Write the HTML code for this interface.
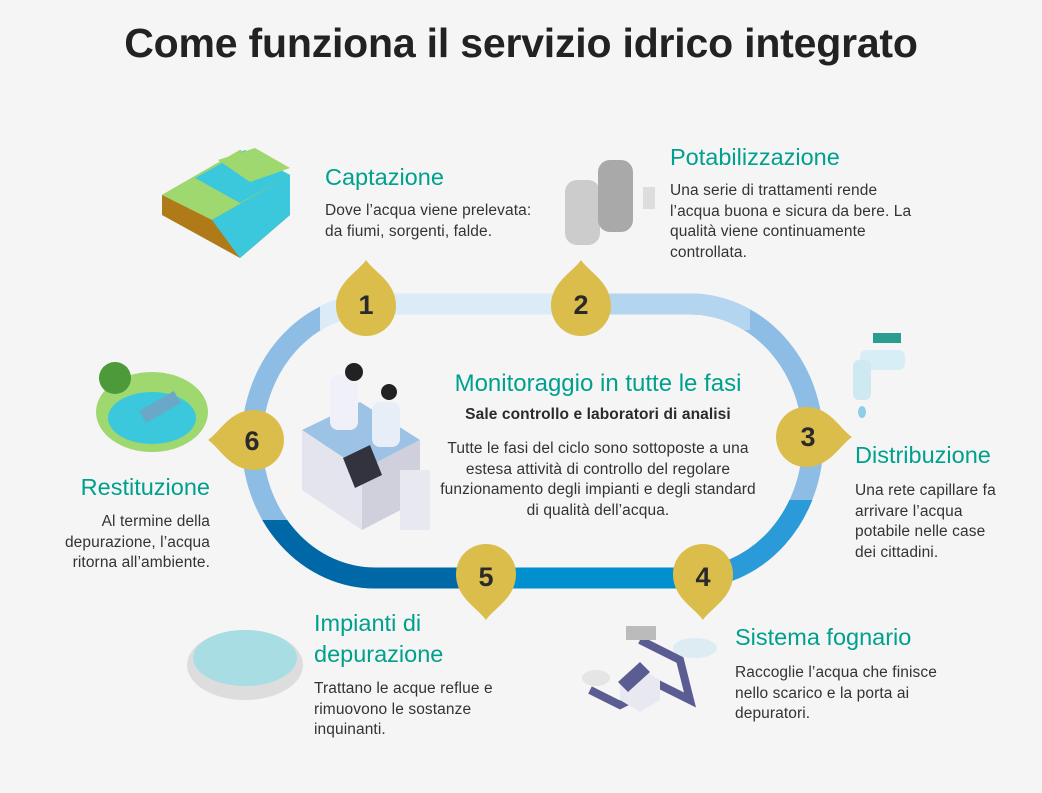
<!DOCTYPE html>
<html><head><meta charset="utf-8"><style>
body{margin:0;width:1042px;height:793px;background:#f5f5f5;position:relative;overflow:hidden;font-family:"Liberation Sans",sans-serif;color:#333}
h1{position:absolute;left:0;width:1042px;top:20px;margin:0;text-align:center;font-size:41px;font-weight:bold;color:#222;letter-spacing:-0.2px}
.h{position:absolute;color:#00a08e;font-size:23.5px;white-space:nowrap}
.b{position:absolute;font-size:15.5px;line-height:20.5px;white-space:nowrap;color:#333;letter-spacing:0.1px}
.r{text-align:right}
.c{text-align:center}
</style></head><body>
<h1>Come funziona il servizio idrico integrato</h1>
<svg width="1042" height="793" style="position:absolute;left:0;top:0">
<defs>
<clipPath id="cTop1"><rect x="320" y="270" width="250" height="60"/></clipPath>
<clipPath id="cTop2"><rect x="570" y="270" width="180" height="60"/></clipPath>
<clipPath id="cBR"><rect x="700" y="500" width="150" height="100"/></clipPath>
<clipPath id="cB45"><rect x="490" y="540" width="210" height="60"/></clipPath>
<clipPath id="cB56"><rect x="230" y="520" width="260" height="80"/></clipPath>
</defs>
<path d="M375 304 H690 A123 137 0 0 1 690 578 H375 A123 137 0 0 1 375 304 Z" fill="none" stroke="#8dbde4" stroke-width="21"/>
<g fill="none" stroke-width="21">
<path d="M375 304 H690 A123 137 0 0 1 690 578 H375 A123 137 0 0 1 375 304 Z" stroke="#dcebf8" clip-path="url(#cTop1)"/>
<path d="M375 304 H690 A123 137 0 0 1 690 578 H375 A123 137 0 0 1 375 304 Z" stroke="#b4d5f0" clip-path="url(#cTop2)"/>
<path d="M375 304 H690 A123 137 0 0 1 690 578 H375 A123 137 0 0 1 375 304 Z" stroke="#2a9ad8" clip-path="url(#cBR)"/>
<path d="M375 304 H690 A123 137 0 0 1 690 578 H375 A123 137 0 0 1 375 304 Z" stroke="#0090d0" clip-path="url(#cB45)"/>
<path d="M375 304 H690 A123 137 0 0 1 690 578 H375 A123 137 0 0 1 375 304 Z" stroke="#0068a6" clip-path="url(#cB56)"/>
</g>
<g fill="#dbbd4b">
<path d="M366 260 C374 272 396 282 396 306 A30 30 0 0 1 336 306 C336 282 358 272 366 260Z"/>
<path d="M581 260 C589 272 611 282 611 306 A30 30 0 0 1 551 306 C551 282 573 272 581 260Z"/>
<path d="M852 437 C840 445 830 467 806 467 A30 30 0 0 1 806 407 C830 407 840 429 852 437Z"/>
<path d="M703 620 C695 608 673 598 673 574 A30 30 0 0 1 733 574 C733 598 711 608 703 620Z"/>
<path d="M486 620 C478 608 456 598 456 574 A30 30 0 0 1 516 574 C516 598 494 608 486 620Z"/>
<path d="M208 440 C220 432 230 410 254 410 A30 30 0 0 1 254 470 C230 470 220 448 208 440Z"/>
</g>
<g font-family="Liberation Sans,sans-serif" font-weight="bold" font-size="27" fill="#2a2a2a" text-anchor="middle">
<text x="366" y="314">1</text><text x="581" y="314">2</text><text x="808" y="446">3</text>
<text x="703" y="586">4</text><text x="486" y="586">5</text><text x="252" y="450">6</text>
</g>
<polygon points="162,195 240,150 290,175 290,215 240,258 162,215" fill="#b07a18"/>
<polygon points="162,195 240,150 290,175 212,220" fill="#9ed86e"/>
<polygon points="195,178 245,150 290,175 240,203" fill="#3cc8dc"/>
<polygon points="212,220 290,175 290,215 240,258" fill="#3cc8dc"/>
<polygon points="218,160 255,148 290,168 250,182" fill="#9ed86e"/>
<rect x="565" y="180" width="35" height="65" rx="12" fill="#ccc"/>
<rect x="598" y="160" width="35" height="72" rx="12" fill="#a9a9a9"/>
<rect x="643" y="187" width="12" height="22" fill="#ddd"/>
<rect x="860" y="350" width="45" height="20" rx="6" fill="#d8eef6"/>
<rect x="853" y="360" width="18" height="40" rx="6" fill="#cfe9f3"/>
<rect x="873" y="333" width="28" height="10" fill="#2a9d8f"/>
<ellipse cx="862" cy="412" rx="4" ry="6" fill="#8ccfe6"/>
<ellipse cx="152" cy="412" rx="56" ry="40" fill="#9ed86e"/>
<ellipse cx="152" cy="418" rx="44" ry="26" fill="#3cc8dc"/>
<circle cx="115" cy="378" r="16" fill="#4c9a3a"/>
<rect x="140" y="400" width="40" height="14" fill="#6aa8c8" transform="rotate(-30 160 407)"/>
<ellipse cx="245" cy="665" rx="58" ry="35" fill="#ddd"/>
<ellipse cx="245" cy="658" rx="52" ry="28" fill="#a8dde3"/>
<path d="M590 690 L620 705 L660 685 L690 700 L680 660 L640 640" fill="none" stroke="#5a5c92" stroke-width="8"/>
<polygon points="620,680 640,668 660,680 660,700 640,712 620,700" fill="#e8e8f0"/>
<polygon points="618,682 640,662 650,672 628,692" fill="#5a5c92"/>
<rect x="626" y="626" width="30" height="14" fill="#bbb"/>
<ellipse cx="695" cy="648" rx="22" ry="10" fill="#dcecf2"/>
<ellipse cx="596" cy="678" rx="14" ry="8" fill="#e5e5e5"/>
<polygon points="302,430 360,402 420,440 362,470" fill="#9cc3e6"/>
<polygon points="302,430 362,470 362,530 302,490" fill="#e4e4ee"/>
<polygon points="362,470 420,440 420,500 362,530" fill="#d0d0dc"/>
<rect x="400" y="470" width="30" height="60" fill="#e8e8f0"/>
<polygon points="343,458 370,445 382,475 355,488" fill="#333340"/>
<rect x="330" y="375" width="28" height="55" rx="8" fill="#f0f0f8"/>
<circle cx="354" cy="372" r="9" fill="#222"/>
<rect x="372" y="402" width="28" height="45" rx="8" fill="#e8eef8"/>
<circle cx="389" cy="392" r="8" fill="#222"/>
</svg>
<div class="h" style="left:325px;top:164px">Captazione</div>
<div class="b" style="left:325px;top:201px">Dove l’acqua viene prelevata:<br>da fiumi, sorgenti, falde.</div>
<div class="h" style="left:670px;top:144px">Potabilizzazione</div>
<div class="b" style="left:670px;top:181px">Una serie di trattamenti rende<br>l’acqua buona e sicura da bere. La<br>qualità viene continuamente<br>controllata.</div>
<div class="h c" style="left:388px;width:420px;top:370px;font-size:24px">Monitoraggio in tutte le fasi</div>
<div class="b c" style="left:388px;width:420px;top:405px;font-size:15.5px;font-weight:bold;color:#2a2a2a">Sale controllo e laboratori di analisi</div>
<div class="b c" style="left:388px;width:420px;top:439px">Tutte le fasi del ciclo sono sottoposte a una<br>estesa attività di controllo del regolare<br>funzionamento degli impianti e degli standard<br>di qualità dell’acqua.</div>
<div class="h" style="left:855px;top:442px">Distribuzione</div>
<div class="b" style="left:855px;top:481px">Una rete capillare fa<br>arrivare l’acqua<br>potabile nelle case<br>dei cittadini.</div>
<div class="h r" style="left:0;width:210px;top:474px">Restituzione</div>
<div class="b r" style="left:0;width:210px;top:512px">Al termine della<br>depurazione, l’acqua<br>ritorna all’ambiente.</div>
<div class="h" style="left:314px;top:608px;line-height:31px">Impianti di<br>depurazione</div>
<div class="b" style="left:314px;top:679px">Trattano le acque reflue e<br>rimuovono le sostanze<br>inquinanti.</div>
<div class="h" style="left:735px;top:624px">Sistema fognario</div>
<div class="b" style="left:735px;top:663px">Raccoglie l’acqua che finisce<br>nello scarico e la porta ai<br>depuratori.</div>
</body></html>
